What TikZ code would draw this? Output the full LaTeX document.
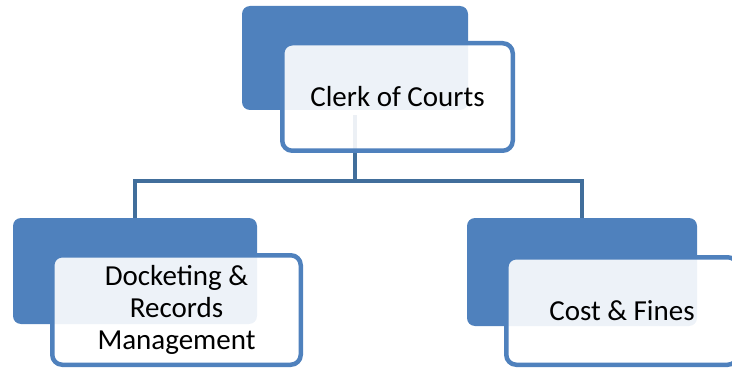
\documentclass[tikz,border=0pt]{standalone}
\usepackage{fontspec}
\setmainfont{Carlito}
\usetikzlibrary{positioning}
\definecolor{accentblue}{RGB}{79,129,189}
\definecolor{linkblue}{RGB}{65,110,155}
\tikzset{
    backbox/.style={rectangle,rounded corners=8pt,fill=accentblue,draw=none,inner sep=0pt},
    frontbox/.style={rectangle,rounded corners=10pt,draw=accentblue,line width=4.5pt,
        fill=white,fill opacity=0.9,text opacity=1,align=center,inner sep=0pt,
        font=\fontsize{29}{32}\selectfont},
    link/.style={draw=linkblue,line width=4.5pt},
}
\begin{document}
\begin{tikzpicture}[x=1pt,y=-1pt]
		\clip (0,0) rectangle (732,369);
		\coordinate (bus) at (0,181);
	
		\node[backbox,minimum width=226pt,minimum height=104pt] (clerkback) at (355,58) {};
		\node[backbox,minimum width=244pt,minimum height=106pt] (docketback) at (135,271) {};
		\node[backbox,minimum width=230pt,minimum height=108pt] (costback) at (582,272) {};
	
		\draw[link] ([yshift=-5pt]clerkback.south) -- (clerkback.south |- bus) -| (docketback.north);
		\draw[link] (clerkback.south |- bus) -| (costback.north);
	
		\node[frontbox,minimum width=230.5pt,minimum height=107.5pt] (clerk) at (397.5,97) {Clerk of Courts};
		\node[frontbox,minimum width=248.5pt,minimum height=109.5pt] (docket) at (176.5,310) {Docketing \&\\ Records\\ Management};
		\node[frontbox,minimum width=231.5pt,minimum height=107.5pt] (cost) at (622,311) {Cost \& Fines};
	\end{tikzpicture}
\end{document}
